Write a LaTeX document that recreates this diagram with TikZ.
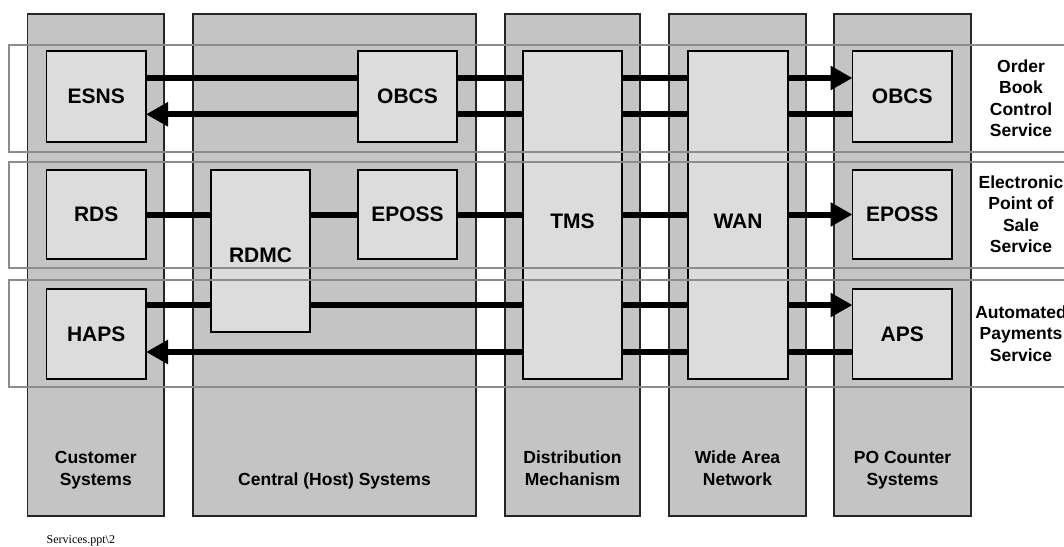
\documentclass[tikz,border=0pt]{standalone}
\usepackage{fontspec}
\setmainfont{Liberation Sans}
\newfontfamily\footfont{Liberation Serif}
\usetikzlibrary{arrows.meta}

\definecolor{colfill}{HTML}{C4C4C4}
\definecolor{boxfill}{HTML}{DCDCDC}
\definecolor{bandline}{HTML}{8C8C8C}
\definecolor{coledge}{HTML}{262626}

\pgfdeclarelayer{back}
\pgfdeclarelayer{links}
\pgfdeclarelayer{front}
\pgfsetlayers{back,links,main,front}

\tikzset{
  column/.style={draw=coledge, line width=1.3pt, fill=colfill, inner sep=0pt, outer sep=0pt},
  sysbox/.style={draw=black, line width=1.5pt, fill=boxfill, inner sep=0pt, outer sep=0pt,
                 font=\bfseries\fontsize{21}{25}\selectfont},
  band/.style={draw=bandline, line width=2pt, inner sep=0pt, outer sep=0pt},
  lbl/.style={font=\bfseries\fontsize{17.5}{22.5}\selectfont, align=center, inner sep=0pt},
  svc/.style={font=\bfseries\fontsize{17.5}{21.5}\selectfont, align=center, inner sep=0pt},
  boxtext/.style={font=\bfseries\fontsize{21}{25}\selectfont, inner sep=0pt},
  flow/.style={line width=6pt, draw=black, -{Triangle[length=22pt,width=23pt]}},
}

\begin{document}
\begin{tikzpicture}[x=1pt, y=-1pt]
\clip (0,0) rectangle (1064,546);

% system columns
\begin{pgfonlayer}{back}
\node[column, minimum width=136.5pt, minimum height=502pt] (colcust) at (95.75,265) {};
\node[column, minimum width=283pt, minimum height=502pt] (colhost) at (334.5,265) {};
\node[column, minimum width=135pt, minimum height=502pt] (coldist) at (572.5,265) {};
\node[column, minimum width=137pt, minimum height=502pt] (colwan) at (737.5,265) {};
\node[column, minimum width=137pt, minimum height=502pt] (colpo) at (902.5,265) {};
\end{pgfonlayer}

% column captions
\node[lbl] (capcust) at (95.75,469.8) {\strut Customer\\\strut Systems};
\node[lbl] (caphost) at (334.5,481.2) {\strut Central (Host) Systems};
\node[lbl] (capdist) at (572.5,469.8) {\strut Distribution\\\strut Mechanism};
\node[lbl] (capwan) at (737.5,469.8) {\strut Wide Area\\\strut Network};
\node[lbl] (cappo) at (902.5,469.8) {\strut PO Counter\\\strut Systems};

% system boxes
\node[sysbox, minimum width=99.5pt, minimum height=91pt] (esns) at (96.25,96.5) {ESNS};
\node[sysbox, minimum width=99pt, minimum height=91pt] (obcsC) at (407.5,96.5) {OBCS};
\node[sysbox, minimum width=99.5pt, minimum height=89pt] (rds) at (96.25,214.5) {RDS};
\node[sysbox, minimum width=99pt, minimum height=162pt] (rdmc) at (260.5,251) {};
\node[boxtext] (rdmctext) at (260.5,255) {RDMC};
\node[sysbox, minimum width=99pt, minimum height=89pt] (epossC) at (407.5,214.5) {EPOSS};
\node[sysbox, minimum width=99.5pt, minimum height=90pt] (haps) at (96.25,334) {HAPS};
\node[sysbox, minimum width=99pt, minimum height=328pt] (tms) at (572.5,215) {};
\node[boxtext] (tmstext) at (572.5,221.5) {TMS};
\node[sysbox, minimum width=100pt, minimum height=328pt] (wan) at (738,215) {};
\node[boxtext] (wantext) at (738,221.5) {WAN};
\node[sysbox, minimum width=99.5pt, minimum height=91pt] (obcsR) at (902.25,96.5) {OBCS};
\node[sysbox, minimum width=99.5pt, minimum height=89pt] (epossR) at (902.25,214.5) {EPOSS};
\node[sysbox, minimum width=99.5pt, minimum height=90pt] (aps) at (902.25,334) {APS};

% message flows, behind the boxes
\begin{pgfonlayer}{links}
\draw[flow] ([yshift=18.5pt]esns.east) -- ([yshift=18.5pt]obcsR.west);
\draw[flow] ([yshift=-17.8pt]obcsR.west) -- ([yshift=-17.8pt]esns.east);
\draw[flow] (rds.east) -- (epossR.west);
\draw[flow] ([yshift=29pt]haps.east) -- ([yshift=29pt]aps.west);
\draw[flow] ([yshift=-18pt]aps.west) -- ([yshift=-18pt]haps.east);
\end{pgfonlayer}

% service bands across all columns
\begin{pgfonlayer}{front}
\node[band, minimum width=1070pt, minimum height=106.5pt] (bandobcs) at (544.3,98.25) {};
\node[band, minimum width=1070pt, minimum height=106pt] (bandeposs) at (544.3,215) {};
\node[band, minimum width=1070pt, minimum height=107pt] (bandaps) at (544.3,333.5) {};
\end{pgfonlayer}

% service names
\node[svc] (svcobcs) at (1021,100.2) {\strut Order\\\strut Book\\\strut Control\\\strut Service};
\node[svc] (svceposs) at (1021,216) {\strut Electronic\\\strut Point of\\\strut Sale\\\strut Service};
\node[svc] (svcaps) at (1021,335.2) {\strut Automated\\\strut Payments\\\strut Service};

% file reference
\node[anchor=west, inner sep=0pt, font=\footfont\fontsize{12}{14}\selectfont] (fileref) at (46.5,540.7) {Services.ppt\textbackslash 2};
\end{tikzpicture}
\end{document}
